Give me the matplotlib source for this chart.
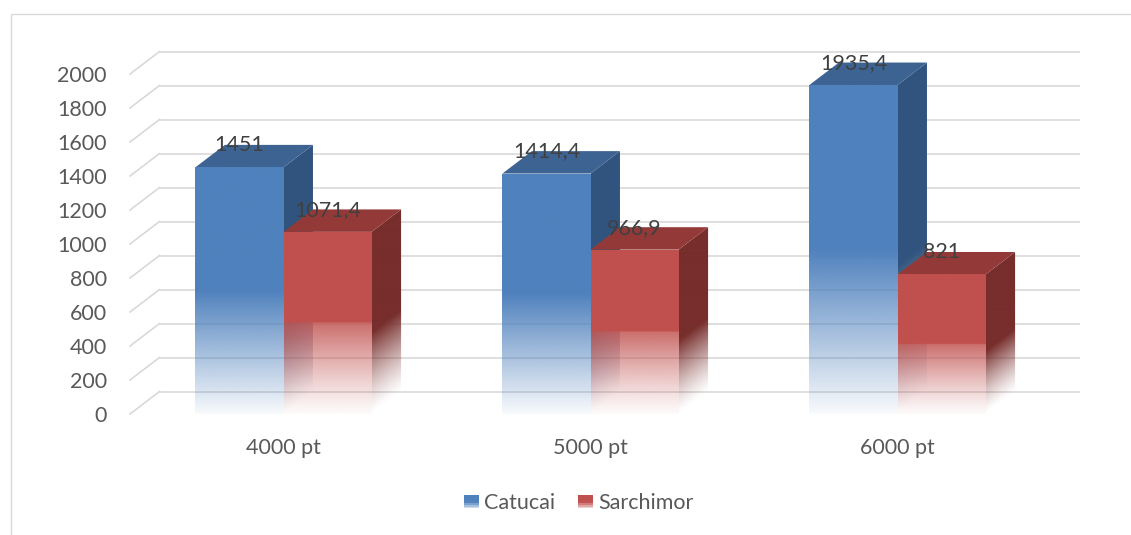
import numpy as np
import matplotlib
matplotlib.use("Agg")
import matplotlib.pyplot as plt
from matplotlib.patches import Polygon, Rectangle, Patch
from matplotlib.colors import to_rgb
from matplotlib.legend_handler import HandlerBase

# data
categories = ["4000 pt", "5000 pt", "6000 pt"]
series_names = ["Catucai", "Sarchimor"]
catucai = [1451, 1414.4, 1935.4]
sarchimor = [1071.4, 966.9, 821]
value_ticks = [0, 200, 400, 600, 800, 1000, 1200, 1400, 1600, 1800, 2000]

# colours: front, top, side
front_cols = ["#4F81BD", "#C0504D"]
top_cols = ["#3C6391", "#933A38"]
side_cols = ["#31547F", "#772E2C"]
grid_col = "#D9D9D9"
text_col = "#595959"
label_col = "#404040"

plt.rcParams["font.family"] = ["Lato", "DejaVu Sans"]
FS = 15.5

W, H, DPI = 1131, 535, 100
YMAX = value_ticks[-1]
BAR_W = 0.287          # width of one bar in category units
DX = 0.096             # depth offset, category units
DY = 132.0             # depth offset, value units
PX_CAT = 307.0
PX_VAL = 0.17
LEFT_PX, ZERO_PX = 130, 414

fig = plt.figure(figsize=(W / DPI, H / DPI), dpi=DPI)
ax_w = (3 + DX) * PX_CAT
ax_h = (YMAX + DY) * PX_VAL
ax = fig.add_axes([LEFT_PX / W, 1 - ZERO_PX / H, ax_w / W, ax_h / H])
ax.set_axis_off()

# chart border (left and top edges show)
fig.patches.append(Rectangle((11 / W, -0.1), 1.2, 1.1 - 14 / H, transform=fig.transFigure,
                             fill=False, edgecolor=grid_col, lw=1.0))

x_lo, x_hi = -0.5, len(categories) - 0.5

# gridlines on the back wall and the side wall
for v in value_ticks:
    ax.plot([x_lo + DX, x_hi + DX], [v + DY, v + DY], color=grid_col, lw=1.2,
            zorder=1, clip_on=False, solid_capstyle="butt")
    ax.plot([x_lo, x_lo + DX], [v, v + DY], color=grid_col, lw=1.2,
            zorder=1, clip_on=False)
    ax.annotate(f"{v}", (x_lo, v), xytext=(-23, 0), textcoords="offset pixels",
                ha="right", va="center_baseline", fontsize=FS, color=text_col,
                annotation_clip=False)


def fade_blue(f):
    return np.where(f >= 0.5, 1.0, 0.04 + 0.96 * np.clip(f / 0.5, 0, 1))


def fade_red(f):
    return np.where(f >= 0.5, 1.0, 0.03 + 0.8 * np.clip(f / 0.5, 0, 1) ** 1.2)


def fade_side(f):
    return np.clip(f / 0.45, 0, 1) ** 1.3


def shade_face(verts, color, alpha_fn, zorder, nx=60, ny=300):
    verts = np.asarray(verts, dtype=float)
    x0, y0 = verts.min(axis=0)
    x1, y1 = verts.max(axis=0)
    X, Y = np.meshgrid(np.linspace(x0, x1, nx), np.linspace(y0, y1, ny))
    img = np.zeros((ny, nx, 4))
    img[..., :3] = to_rgb(color)
    img[..., 3] = alpha_fn(X, Y)
    im = ax.imshow(img, extent=(x0, x1, y0, y1), origin="lower", aspect="auto",
                   interpolation="bilinear", zorder=zorder)
    im.set_clip_path(Polygon(verts, closed=True, transform=ax.transData))
    return im


def draw_bar(xl, v, k, zorder):
    xr = xl + BAR_W
    fade = fade_blue if k == 0 else fade_red
    # side face: value level along the slanted depth direction
    side = [(xr, 0), (xr + DX, DY), (xr + DX, v + DY), (xr, v)]
    shade_face(side, side_cols[k],
               lambda X, Y: fade_side((Y - (X - xr) / DX * DY) / v), zorder)
    top = [(xl, v), (xr, v), (xr + DX, v + DY), (xl + DX, v + DY)]
    ax.add_patch(Polygon(top, closed=True, facecolor=top_cols[k], edgecolor="none",
                         zorder=zorder + 0.1))
    front = [(xl, 0), (xr, 0), (xr, v), (xl, v)]
    shade_face(front, front_cols[k], lambda X, Y: fade(Y / v), zorder + 0.2)
    ax.annotate(f"{v:g}".replace(".", ","), (xl + BAR_W / 2, v), xytext=(0, 24),
                textcoords="offset pixels", ha="center", va="center_baseline",
                fontsize=FS, color=label_col, zorder=20, annotation_clip=False)


z = 3
for i, cat in enumerate(categories):
    for k, vals in enumerate([catucai, sarchimor]):
        draw_bar(i - BAR_W + k * BAR_W, vals[i], k, z)
        z += 1
    ax.annotate(cat, (i, 0), xytext=(0, -32), textcoords="offset pixels",
                ha="center", va="center_baseline", fontsize=FS, color=text_col,
                annotation_clip=False)

ax.set_xlim(x_lo, x_hi + DX)
ax.set_ylim(0, YMAX + DY)


class GradientSquare(HandlerBase):
    def create_artists(self, legend, orig_handle, xdescent, ydescent, width, height,
                       fontsize, trans):
        n = 8
        col = orig_handle.get_facecolor()
        arts = []
        for j in range(n):
            f = (j + 0.5) / n
            a = 1.0 if f > 0.45 else 0.15 + 0.85 * f / 0.45
            arts.append(Rectangle((-xdescent, -ydescent + height * j / n), width, height / n,
                                  facecolor=col[:3], alpha=a, lw=0, transform=trans))
        return arts


handles = [Patch(facecolor=c) for c in front_cols]
fig.legend(handles, series_names, loc="center", bbox_to_anchor=(579 / W, 1 - 503 / H),
           ncol=2, frameon=False, fontsize=FS, labelcolor=text_col,
           handlelength=0.7, handleheight=0.6, handletextpad=0.25, columnspacing=1.05,
           handler_map={Patch: GradientSquare()})

fig.savefig("out.png", dpi=DPI, facecolor="white")
